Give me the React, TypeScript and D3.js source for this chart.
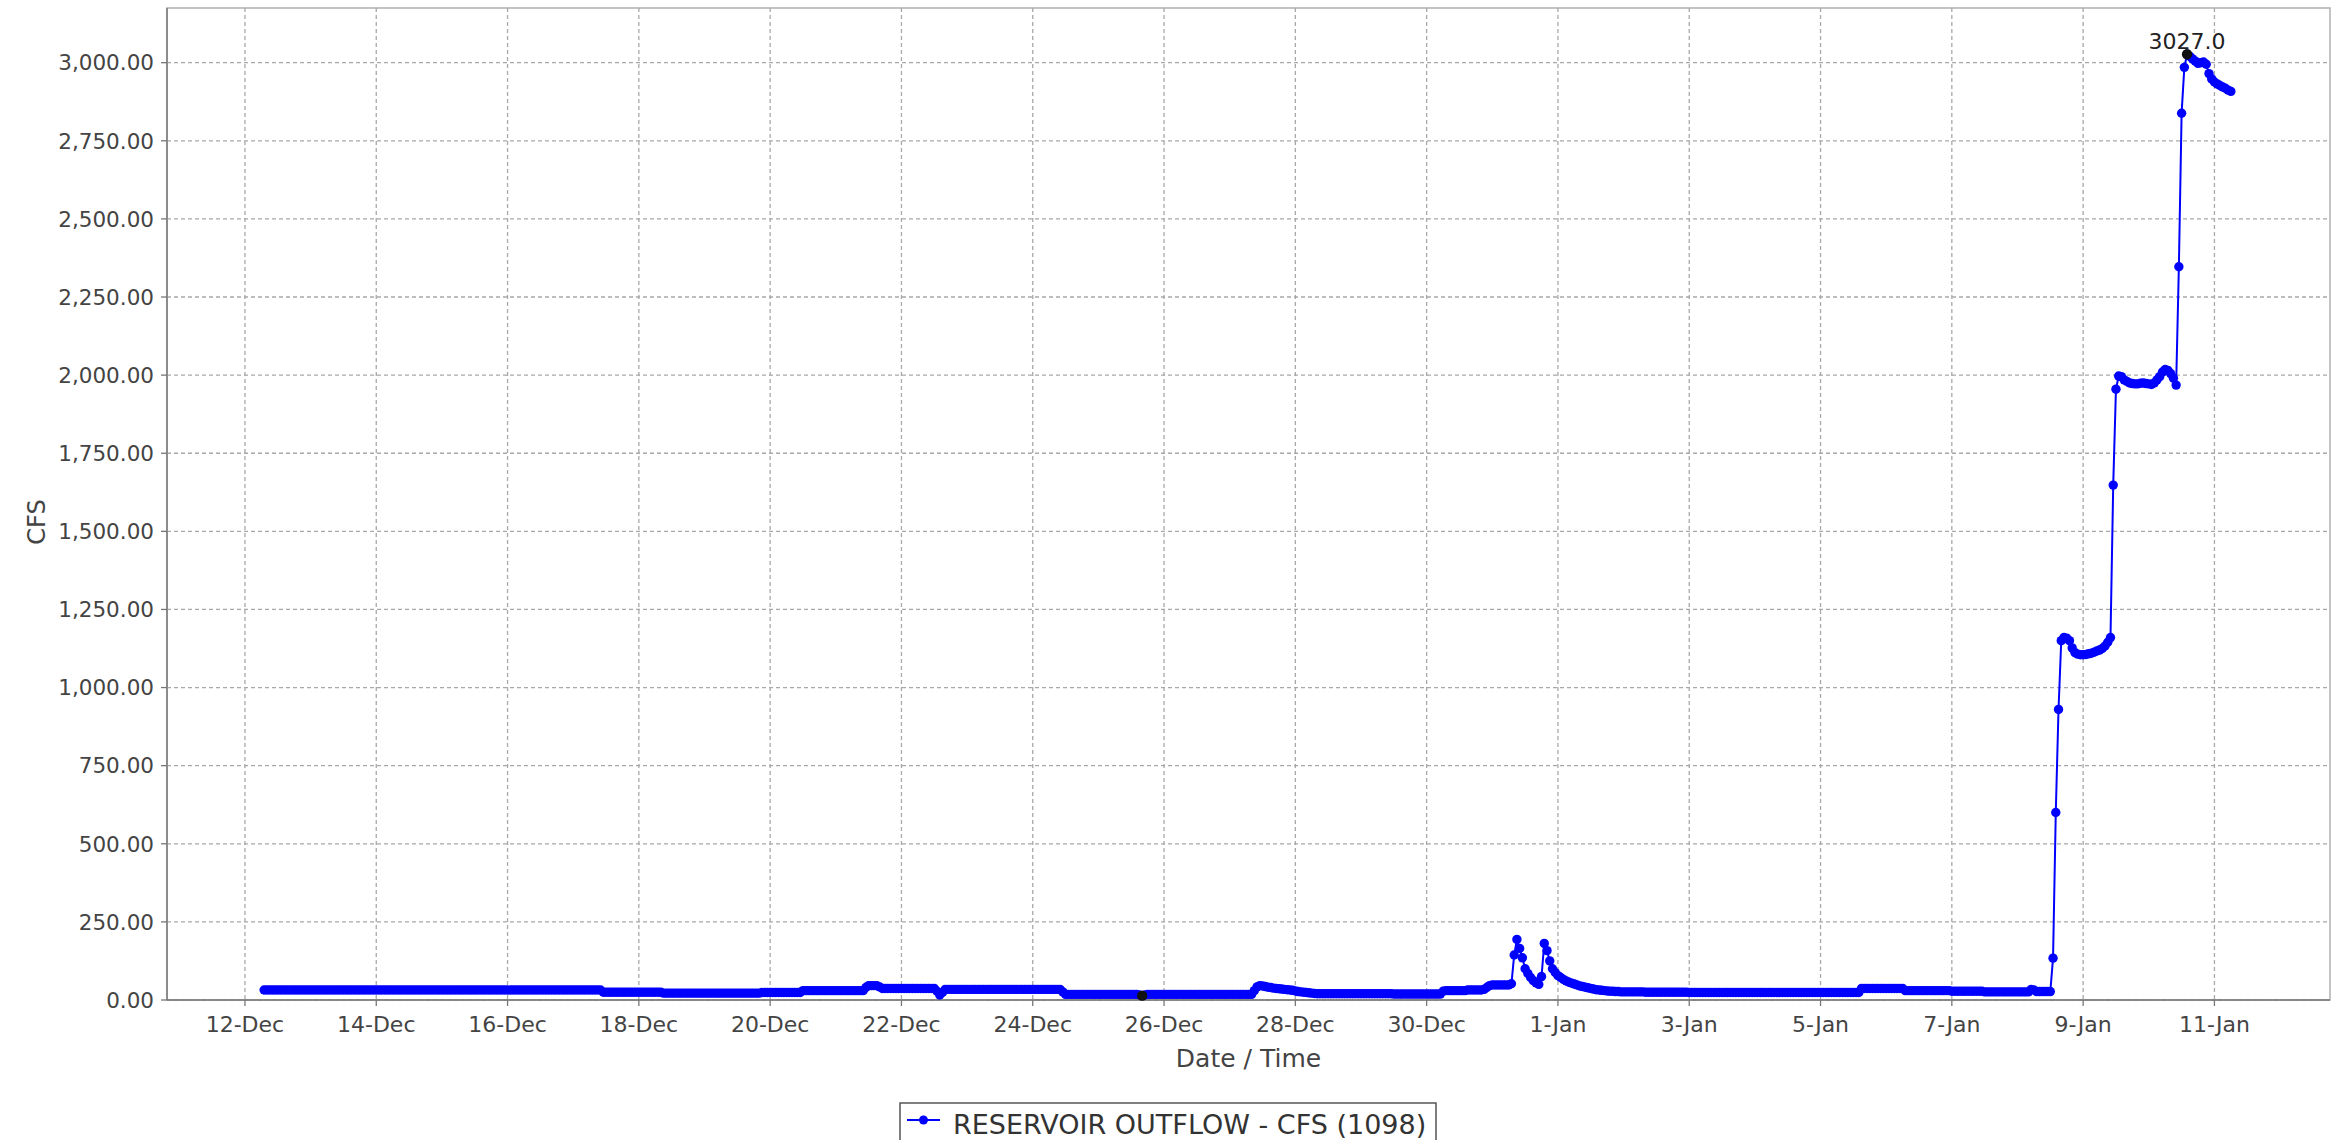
import React, { useEffect } from "react";
import * as d3 from "d3";

const WIDTH = 2344;
const HEIGHT = 1140;
const PLOT = { left: 167, right: 2330, top: 8, bottom: 1000 };

const seriesName = "RESERVOIR OUTFLOW - CFS (1098)";
const xAxisTitle = "Date / Time";
const yAxisTitle = "CFS";

// first hourly reading
const seriesStart = "2016-12-12 07:00";
const xDomain = ["2016-12-10 19:30", "2017-01-12 18:15"];
const yDomain = [0, 3175];
const yTickValues = [0, 250, 500, 750, 1000, 1250, 1500, 1750, 2000, 2250, 2500, 2750, 3000];
const xTickDates = [
  "2016-12-12", "2016-12-14", "2016-12-16", "2016-12-18", "2016-12-20", "2016-12-22",
  "2016-12-24", "2016-12-26", "2016-12-28", "2016-12-30", "2017-01-01", "2017-01-03",
  "2017-01-05", "2017-01-07", "2017-01-09", "2017-01-11",
];

// hourly outflow (cfs); each row is one calendar day (first row starts 07:00, last ends 06:00)
const outflowByDay: number[][] = [
  [32, 32, 32, 32, 32, 32, 32, 32, 32, 32, 32, 32, 32, 32, 32, 32, 32],
  [32, 32, 32, 32, 32, 32, 32, 32, 32, 32, 32, 32, 32, 32, 32, 32, 32, 32, 32, 32, 32, 32, 32, 32],
  [32, 32, 32, 32, 32, 32, 32, 32, 32, 32, 32, 32, 32, 32, 32, 32, 32, 32, 32, 32, 32, 32, 32, 32],
  [32, 32, 32, 32, 32, 32, 32, 32, 32, 32, 32, 32, 32, 32, 32, 32, 32, 32, 32, 32, 32, 32, 32, 32],
  [32, 32, 32, 32, 32, 32, 32, 32, 32, 32, 32, 32, 32, 32, 32, 32, 32, 32, 32, 32, 32, 32, 32, 32],
  [32, 32, 32, 32, 32, 32, 32, 32, 32, 32, 32, 25, 25, 25, 25, 25, 25, 25, 25, 25, 25, 25, 25, 25],
  [25, 25, 25, 25, 25, 25, 25, 25, 25, 22, 22, 22, 22, 22, 22, 22, 22, 22, 22, 22, 22, 22, 22, 22],
  [22, 22, 22, 22, 22, 22, 22, 22, 22, 22, 22, 22, 22, 22, 22, 22, 22, 22, 22, 22, 22, 24, 24, 24],
  [24, 24, 24, 24, 24, 24, 24, 24, 24, 24, 24, 24, 30, 30, 30, 30, 30, 30, 30, 30, 30, 30, 30, 30],
  [30, 30, 30, 30, 30, 30, 30, 30, 30, 30, 30, 40, 46, 46, 46, 46, 42, 37, 37, 37, 37, 37, 37, 37],
  [37, 37, 37, 37, 37, 37, 37, 37, 37, 37, 37, 37, 37, 28, 16, 24, 34, 34, 34, 34, 34, 34, 34, 34],
  [34, 34, 34, 34, 34, 34, 34, 34, 34, 34, 34, 34, 34, 34, 34, 34, 34, 34, 34, 34, 34, 34, 34, 34],
  [34, 34, 34, 34, 34, 34, 34, 34, 34, 34, 34, 26, 18, 18, 18, 18, 18, 18, 18, 18, 18, 18, 18, 18],
  [18, 18, 18, 18, 18, 18, 18, 18, 18, 18, 18, 18, 18, 18, 18, 16, 14, 16, 18, 18, 18, 18, 18, 18],
  [18, 18, 18, 18, 18, 18, 18, 18, 18, 18, 18, 18, 18, 18, 18, 18, 18, 18, 18, 18, 18, 18, 18, 18],
  [18, 18, 18, 18, 18, 18, 18, 18, 18, 30, 42, 46, 45, 43, 41, 40, 38, 37, 36, 35, 34, 33, 32, 31],
  [29, 27, 26, 25, 24, 23, 22, 21, 20, 20, 20, 20, 20, 20, 20, 20, 20, 20, 20, 20, 20, 20, 20, 20],
  [20, 20, 20, 20, 20, 20, 20, 20, 20, 20, 20, 20, 19, 19, 19, 19, 19, 19, 19, 19, 19, 19, 19, 19],
  [19, 19, 19, 19, 19, 19, 28, 30, 30, 30, 30, 30, 30, 30, 30, 32, 32, 32, 32, 32, 32, 34, 40, 46],
  [48, 48, 48, 48, 48, 48, 48, 52, 144, 194, 165, 135, 100, 85, 72, 62, 55, 50, 75, 181, 158, 125, 100, 88],
  [78, 72, 66, 61, 57, 54, 51, 48, 45, 43, 41, 39, 37, 35, 33, 32, 31, 30, 29, 28, 28, 27, 27, 26],
  [26, 26, 26, 26, 26, 26, 26, 26, 25, 25, 25, 25, 25, 25, 25, 25, 25, 25, 25, 25, 25, 25, 25, 25],
  [24, 24, 24, 24, 24, 24, 24, 24, 24, 24, 24, 24, 24, 24, 24, 24, 24, 24, 24, 24, 24, 24, 24, 24],
  [24, 24, 24, 24, 24, 24, 24, 24, 24, 24, 24, 24, 24, 24, 24, 24, 24, 24, 24, 24, 24, 24, 24, 24],
  [24, 24, 24, 24, 24, 24, 24, 24, 24, 24, 24, 24, 24, 24, 24, 37, 37, 37, 37, 37, 37, 37, 37, 37],
  [37, 37, 37, 37, 37, 37, 37, 30, 30, 30, 30, 30, 30, 30, 30, 30, 30, 30, 30, 30, 30, 30, 30, 30],
  [28, 28, 28, 28, 28, 28, 28, 28, 28, 28, 28, 28, 26, 26, 26, 26, 26, 26, 26, 26, 26, 26, 26, 26],
  [26, 26, 26, 26, 26, 34, 32, 27, 27, 27, 27, 27, 27, 134, 600, 930, 1150, 1160, 1158, 1150, 1127, 1112, 1107, 1105],
  [1105, 1106, 1108, 1110, 1113, 1117, 1120, 1125, 1133, 1145, 1160, 1648, 1955, 1997, 1995, 1985, 1980, 1975, 1973, 1972, 1972, 1974, 1975, 1973],
  [1972, 1970, 1975, 1985, 1995, 2010, 2018, 2015, 2005, 1990, 1968, 2347, 2838, 2985, 3027, 3020, 3012, 3005, 2998, 3000, 3002, 2995, 2965, 2948],
  [2938, 2932, 2927, 2922, 2918, 2912, 2908],
];

const FONT = "'DejaVu Sans', Verdana, sans-serif";
const parseDT = d3.timeParse("%Y-%m-%d %H:%M");
const parseD = d3.timeParse("%Y-%m-%d");

export default function App() {
  useEffect(() => {
    document.body.style.margin = "0";
  }, []);

  const start = parseDT(seriesStart) as Date;
  const values = outflowByDay.flat();
  const points = values.map((v, i) => ({ t: d3.timeHour.offset(start, i), v }));

  const x = d3
    .scaleTime()
    .domain(xDomain.map((s) => parseDT(s) as Date))
    .range([PLOT.left, PLOT.right]);
  const y = d3.scaleLinear().domain(yDomain).range([PLOT.bottom, PLOT.top]);

  const line = d3
    .line<{ t: Date; v: number }>()
    .x((d) => x(d.t))
    .y((d) => y(d.v));

  const yFmt = d3.format(",.2f");
  const xFmt = d3.timeFormat("%-d-%b");
  const xTicks = xTickDates.map((s) => parseD(s) as Date);

  const maxPt = points.reduce((a, b) => (b.v > a.v ? b : a));
  const minPt = points.reduce((a, b) => (b.v < a.v ? b : a));

  const gridColor = "#a8a8a8";
  const textColor = "#444";

  return (
    <div style={{ position: "absolute", left: 0, top: 0 }}>
      <svg width={WIDTH} height={HEIGHT} style={{ display: "block", background: "#fff" }}>
        <rect x={0} y={0} width={WIDTH} height={HEIGHT} fill="#fff" />
        <rect
          x={PLOT.left}
          y={PLOT.top}
          width={PLOT.right - PLOT.left}
          height={PLOT.bottom - PLOT.top}
          fill="#fff"
          stroke="#b0b0b0"
          strokeWidth={1.5}
        />
        {yTickValues.map((v) => (
          <line
            key={"gy" + v}
            x1={PLOT.left}
            x2={PLOT.right}
            y1={y(v)}
            y2={y(v)}
            stroke={gridColor}
            strokeWidth={1.3}
            strokeDasharray="4,3"
          />
        ))}
        {xTicks.map((d, i) => (
          <line
            key={"gx" + i}
            x1={x(d)}
            x2={x(d)}
            y1={PLOT.top}
            y2={PLOT.bottom}
            stroke={gridColor}
            strokeWidth={1.3}
            strokeDasharray="4,3"
          />
        ))}
        <line x1={PLOT.left} x2={PLOT.left} y1={PLOT.top} y2={PLOT.bottom} stroke="#8c8c8c" strokeWidth={2} />
        <line x1={PLOT.left} x2={PLOT.right} y1={PLOT.bottom} y2={PLOT.bottom} stroke="#777" strokeWidth={1.5} />
        {yTickValues.map((v) => (
          <g key={"ty" + v}>
            <line x1={PLOT.left - 6} x2={PLOT.left} y1={y(v)} y2={y(v)} stroke="#777" strokeWidth={1.3} />
            <text
              x={PLOT.left - 13}
              y={y(v)}
              dy="0.36em"
              textAnchor="end"
              fontFamily={FONT}
              fontSize={21.5}
              fill={textColor}
            >
              {yFmt(v)}
            </text>
          </g>
        ))}
        {xTicks.map((d, i) => (
          <g key={"tx" + i}>
            <line x1={x(d)} x2={x(d)} y1={PLOT.bottom} y2={PLOT.bottom + 6} stroke="#777" strokeWidth={1.3} />
            <text
              x={x(d)}
              y={PLOT.bottom + 32}
              textAnchor="middle"
              fontFamily={FONT}
              fontSize={22}
              fill={textColor}
            >
              {xFmt(d)}
            </text>
          </g>
        ))}
        <text
          x={(PLOT.left + PLOT.right) / 2}
          y={1067}
          textAnchor="middle"
          fontFamily={FONT}
          fontSize={25}
          fill={textColor}
        >
          {xAxisTitle}
        </text>
        <text
          transform={`translate(${36},${(PLOT.top + PLOT.bottom) / 2 + 18}) rotate(-90)`}
          textAnchor="middle"
          dy="0.36em"
          fontFamily={FONT}
          fontSize={24}
          fill={textColor}
        >
          {yAxisTitle}
        </text>
        <g>
          <path d={line(points) || ""} fill="none" stroke="#0000ff" strokeWidth={2} />
          {points.map((p, i) => (
            <circle key={i} cx={x(p.t)} cy={y(p.v)} r={4.7} fill="#0000ff" />
          ))}
        </g>
        <circle cx={x(minPt.t)} cy={y(minPt.v)} r={5.2} fill="#111" />
        <circle cx={x(maxPt.t)} cy={y(maxPt.v)} r={5.2} fill="#111" />
        <text
          x={x(maxPt.t)}
          y={y(maxPt.v) - 5}
          textAnchor="middle"
          fontFamily={FONT}
          fontSize={22}
          fill="#222"
        >
          {maxPt.v.toFixed(1)}
        </text>
        <rect x={900} y={1103} width={536} height={50} fill="#fff" stroke="#555" strokeWidth={1.5} />
        <line x1={907} x2={940} y1={1120} y2={1120} stroke="#0000ff" strokeWidth={2} />
        <circle cx={923.5} cy={1120} r={4.5} fill="#0000ff" />
        <text x={953} y={1134} fontFamily={FONT} fontSize={27} fill="#333">
          {seriesName}
        </text>
      </svg>
    </div>
  );
}
